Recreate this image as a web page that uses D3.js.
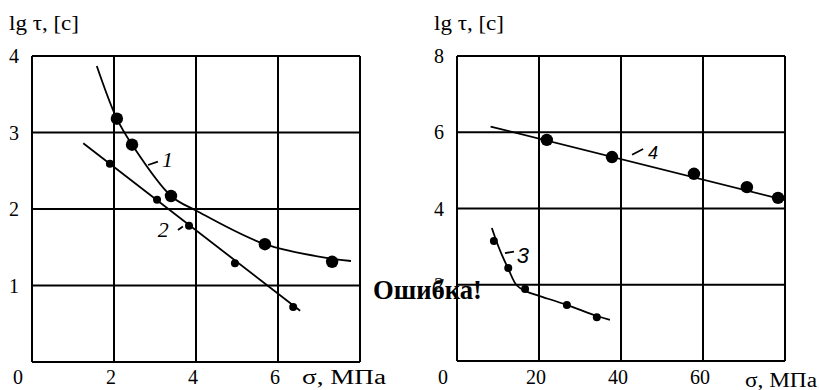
<!DOCTYPE html>
<html>
<head>
<meta charset="utf-8">
<script src="https://cdn.jsdelivr.net/npm/d3@7"></script>
<style>
  body { margin: 0; background: #fff; }
</style>
</head>
<body>
<svg id="chart" width="819" height="390"></svg>
<script>
// left panel: curves 1 and 2
var leftXTicks = [0, 2, 4, 6];
var leftYTicks = [1, 2, 3, 4];
var curve1Dots = [[2.07, 3.18], [2.44, 2.84], [3.39, 2.17], [5.68, 1.54], [7.32, 1.31]];
var curve1Fit = [[1.58, 3.87], [2.07, 3.18], [2.44, 2.84], [3.39, 2.17], [4.0, 1.98], [5.68, 1.54], [7.3, 1.35], [7.78, 1.32]];
var curve2Dots = [[1.90, 2.59], [3.05, 2.12], [3.83, 1.78], [4.95, 1.29], [6.37, 0.72]];
var curve2Fit = [[1.25, 2.86], [6.54, 0.67]];

// right panel: curves 3 and 4
var rightXTicks = [0, 20, 40, 60];
var rightYTicks = [2, 4, 6, 8];
var curve3Dots = [[9.0, 3.15], [12.5, 2.44], [16.6, 1.89], [26.8, 1.47], [34.1, 1.15]];
var curve3Fit = [[8.5, 3.49], [10.3, 2.95], [12.5, 2.42], [14.6, 1.98], [17, 1.82], [20, 1.71], [26.8, 1.47], [34.1, 1.18], [37.3, 1.08]];
var curve4Dots = [[21.9, 5.80], [37.8, 5.35], [57.8, 4.91], [70.7, 4.56], [78.3, 4.28]];
var curve4Fit = [[8.2, 6.15], [80, 4.22]];

var SERIF = "'Liberation Serif', 'DejaVu Serif', serif";
var SANS = "'Liberation Sans', 'DejaVu Sans', sans-serif";

var svg = d3.select("#chart");

// leftover field-code error from the source document (sits under the grid)
svg.append("text").attr("x", 373).attr("y", 299)
    .attr("font-family", SERIF)
    .attr("font-size", 27).attr("font-weight", "bold")
    .attr("textLength", 109).attr("lengthAdjust", "spacingAndGlyphs")
    .text("\u041e\u0448\u0438\u0431\u043a\u0430!");

function drawPanel(p) {
    var x = d3.scaleLinear().domain([0, p.xMax]).range([p.left, p.right]);
    var y = d3.scaleLinear().domain([0, p.yMax]).range([p.bottom, p.top]);
    var g = svg.append("g").attr("font-family", SERIF);

    // grid + frame
    g.selectAll("line.vx").data(x.ticks(4)).enter().append("line")
        .attr("x1", d => x(d)).attr("x2", d => x(d))
        .attr("y1", y(0)).attr("y2", y(p.yMax))
        .attr("stroke", "#000").attr("stroke-width", 2);
    g.selectAll("line.hy").data(y.ticks(4)).enter().append("line")
        .attr("y1", d => y(d)).attr("y2", d => y(d))
        .attr("x1", x(0)).attr("x2", x(p.xMax))
        .attr("stroke", "#000").attr("stroke-width", 2);

    // tick labels
    g.selectAll("text.xl").data(p.xTicks).enter().append("text")
        .attr("x", d => x(d) + (d === 0 ? -14 : -3))
        .attr("y", 384)
        .attr("text-anchor", "middle")
        .attr("font-size", 20)
        .text(d => d);
    g.selectAll("text.yl").data(p.yTicks).enter().append("text")
        .attr("x", x(0) - 13)
        .attr("y", d => y(d))
        .attr("dy", "0.35em")
        .attr("text-anchor", "end")
        .attr("font-size", 20)
        .text(d => d);

    // axis titles (the source scan is stretched sideways a little)
    g.append("text").attr("x", p.left - 23).attr("y", 30)
        .attr("font-size", 21)
        .attr("textLength", 70).attr("lengthAdjust", "spacingAndGlyphs")
        .text("lg \u03c4, [c]");
    g.append("text").attr("x", p.sigmaX).attr("y", p.sigmaY)
        .attr("font-size", 20)
        .attr("textLength", p.sigmaW).attr("lengthAdjust", "spacingAndGlyphs")
        .text("\u03c3, \u041c\u041f\u0430");

    var line = d3.line().x(d => x(d[0])).y(d => y(d[1])).curve(d3.curveCatmullRom.alpha(0.5));
    p.curves.forEach(function (c) {
        g.append("path").datum(c.fit)
            .attr("d", line)
            .attr("fill", "none").attr("stroke", "#000").attr("stroke-width", 1.8);
        g.selectAll(null).data(c.dots).enter().append("circle")
            .attr("cx", d => x(d[0])).attr("cy", d => y(d[1]))
            .attr("r", c.r).attr("fill", "#000");
        g.append("line")
            .attr("x1", x(c.lead[0][0])).attr("y1", y(c.lead[0][1]))
            .attr("x2", x(c.lead[1][0])).attr("y2", y(c.lead[1][1]))
            .attr("stroke", "#000").attr("stroke-width", 1.8);
        g.append("text")
            .attr("x", x(c.at[0])).attr("y", y(c.at[1]))
            .attr("font-size", c.size)
            .attr("font-style", "italic")
            .attr("font-family", c.font)
            .text(c.name);
    });
}

drawPanel({
    left: 32, right: 360, top: 56, bottom: 362, xMax: 8, yMax: 4,
    xTicks: leftXTicks, yTicks: leftYTicks,
    sigmaX: 302, sigmaY: 384, sigmaW: 84,
    curves: [
        { fit: curve1Fit, dots: curve1Dots, r: 6.2, name: "1", at: [3.17, 2.55],
          lead: [[2.83, 2.575], [3.07, 2.62]], size: 22, font: SERIF },
        { fit: curve2Fit, dots: curve2Dots, r: 4, name: "2", at: [3.07, 1.63],
          lead: [[3.56, 1.725], [3.68, 1.77]], size: 22, font: SERIF }
    ]
});

drawPanel({
    left: 457, right: 785, top: 56, bottom: 361, xMax: 80, yMax: 8,
    xTicks: rightXTicks, yTicks: rightYTicks,
    sigmaX: 745, sigmaY: 387, sigmaW: 72,
    curves: [
        { fit: curve3Fit, dots: curve3Dots, r: 4, name: "3", at: [14.6, 2.57],
          lead: [[11.7, 2.83], [13.9, 2.87]], size: 22, font: SANS },
        { fit: curve4Fit, dots: curve4Dots, r: 6.2, name: "4", at: [46.6, 5.30],
          lead: [[42.7, 5.41], [45.4, 5.56]], size: 18, font: SANS }
    ]
});
</script>
</body>
</html>
